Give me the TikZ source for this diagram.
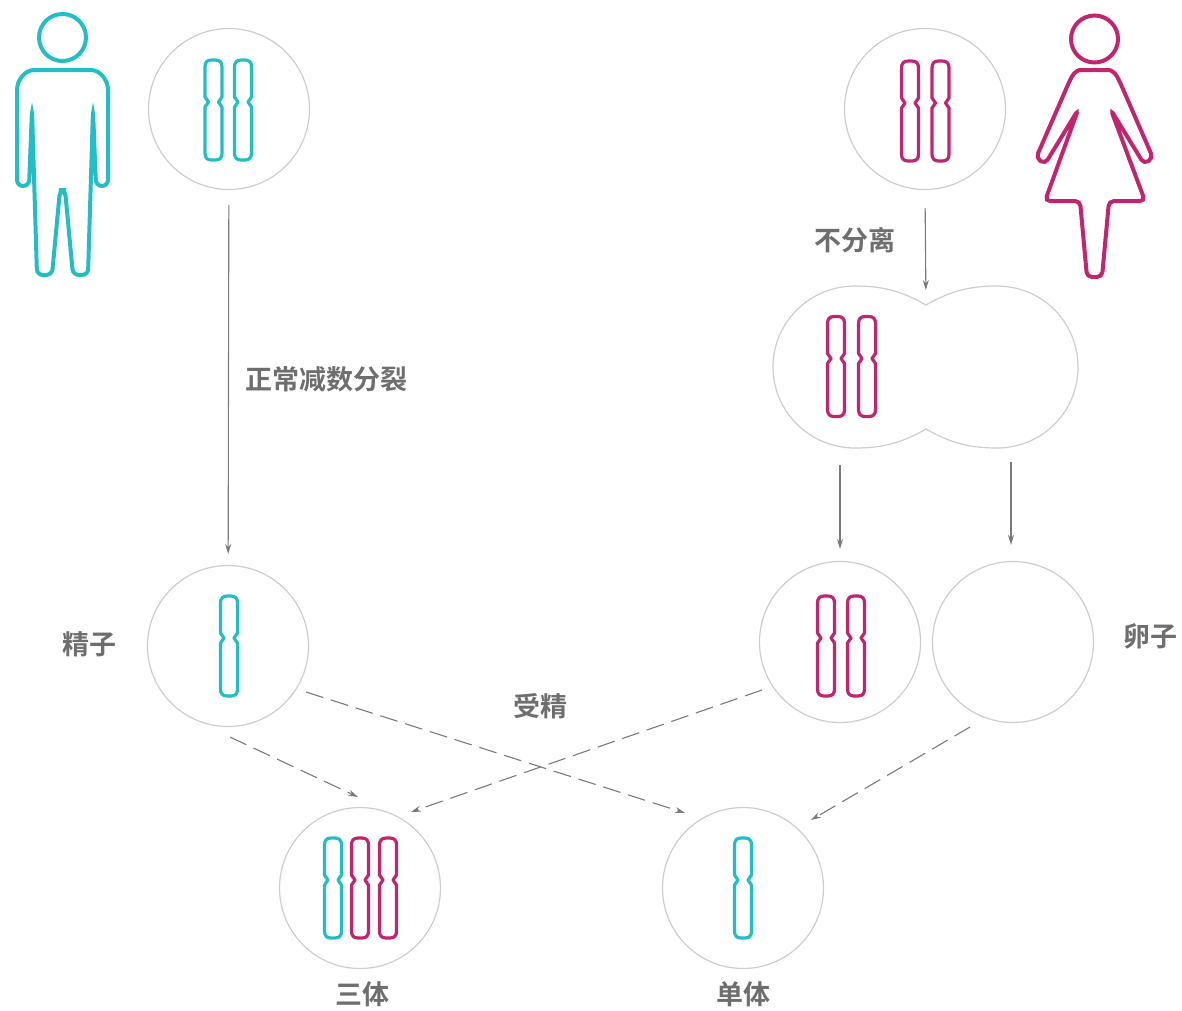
\documentclass[tikz,border=0pt]{standalone}
\usepackage{fontspec}
\usepackage{tikz}
\usetikzlibrary{arrows.meta, calc, positioning}

\newfontfamily\cjk{Noto Sans CJK SC Bold}

\definecolor{malecyan}{HTML}{22BEC6}
\definecolor{femalepink}{HTML}{C2246E}
\definecolor{cellgray}{HTML}{CDCDCD}
\definecolor{arrowgray}{HTML}{7A7A7A}
\definecolor{textgray}{HTML}{6E6E6E}

\tikzset{
    chromo/.pic={
        \draw[line width=3.2pt, line join=round]
            (-8.5,-43) .. controls (-8.5,-47.5) and (-6.5,-50) .. (-2,-50) -- (2,-50)
            .. controls (6.5,-50) and (8.5,-47.5) .. (8.5,-43) -- (8.5,-13)
            .. controls (8.5,-10) and (5,-11) .. (5,-8)
            .. controls (5,-5) and (8.5,-6) .. (8.5,-3)
            -- (8.5,43) .. controls (8.5,47.5) and (6.5,50) .. (2,50) -- (-2,50)
            .. controls (-6.5,50) and (-8.5,47.5) .. (-8.5,43) -- (-8.5,-3)
            .. controls (-8.5,-6) and (-5,-5) .. (-5,-8)
            .. controls (-5,-11) and (-8.5,-10) .. (-8.5,-13)
            -- cycle;
    }
}

\begin{document}
\begin{tikzpicture}[x=1pt, y=-1pt,
        cell/.style={circle, draw=cellgray, line width=1.2pt, minimum size=161pt, inner sep=0pt},
        arr/.style={draw=arrowgray, line width=1.1pt, -{Stealth[length=10pt, width=6pt]}, shorten <=15pt, shorten >=11pt},
        dasharr/.style={draw=arrowgray, line width=1.1pt, dash pattern=on 18pt off 8pt, -{Stealth[length=10pt, width=6pt]}},
        lbl/.style={text=textgray, font=\cjk\fontsize{27}{32}\selectfont, inner sep=0pt}]
    \useasboundingbox (0,0) rectangle (1182,1010);

    % the two parents
    \draw[malecyan, line width=4pt] (62.5,37.5) circle[radius=23.5];
    \draw[malecyan, line width=4pt, rounded corners=6pt]
        (32,110) -- (37,275) -- (52,275) -- (60,190) -- (65,190) -- (73,275) -- (88,275) -- (93,110)
        -- (96,186) -- (108,186) -- (108,96)
        .. controls (108,80) and (100,70) .. (85,70) -- (40,70)
        .. controls (25,70) and (17,80) .. (17,96) -- (17,186) -- (29,186) -- cycle;

    \draw[femalepink, line width=4pt] (1094.5,39) circle[radius=23.5];
    \draw[femalepink, line width=4pt, rounded corners=5pt]
        (1078,110) -- (1045,201) -- (1080,201) -- (1087,277) -- (1102,277) -- (1109,201) -- (1145,201)
        -- (1111,110) -- (1144,164) -- (1153,158)
        -- (1119,80) .. controls (1115,73) and (1111,70) .. (1104,70) -- (1085,70)
        .. controls (1078,70) and (1074,73) .. (1070,80)
        -- (1036,158) -- (1045,164) -- cycle;

    % cells
    \node[cell] (male) at (229,109) {};
    \node[cell] (female) at (925,109) {};
    \node[cell] (sperm) at (228,646) {};
    \node[cell] (egg) at (840,642) {};
    \node[cell] (eggE) at (1013,642) {};
    \node[cell] (tri) at (360,888) {};
    \node[cell] (mono) at (743,888) {};

    % dividing cell
    \draw[cellgray, line width=1.2pt]
        (926,305) coordinate (waist)
        .. controls (900,290) and (880,286) .. (855,286)
        .. controls (810,286) and (773,322) .. (773,367)
        .. controls (773,412) and (810,448) .. (855,448)
        .. controls (880,448) and (900,444) .. (926,429)
        .. controls (952,444) and (972,448) .. (997,448)
        .. controls (1042,448) and (1078,412) .. (1078,367)
        .. controls (1078,322) and (1042,286) .. (997,286)
        .. controls (972,286) and (952,290) .. (926,305) -- cycle;
    \coordinate (lobeL) at (840,450);
    \coordinate (lobeR) at (1011,447);

    % chromosomes
    \pic[color=malecyan] at ($(male)+(-15.5,1)$) {chromo};
    \pic[color=malecyan] at ($(male)+(14,1)$) {chromo};
    \pic[color=femalepink] at ($(female)+(-15,2)$) {chromo};
    \pic[color=femalepink] at ($(female)+(15.5,2)$) {chromo};
    \pic[color=femalepink] at (836,366.5) {chromo};
    \pic[color=femalepink] at (867,366.5) {chromo};
    \pic[color=malecyan] at ($(sperm)+(1,0)$) {chromo};
    \pic[color=femalepink] at ($(egg)+(-14,4)$) {chromo};
    \pic[color=femalepink] at ($(egg)+(16,4)$) {chromo};
    \pic[color=malecyan] at ($(tri)+(-27,0)$) {chromo};
    \pic[color=femalepink] at ($(tri)+(0,0)$) {chromo};
    \pic[color=femalepink] at ($(tri)+(28,0)$) {chromo};
    \pic[color=malecyan] at ($(mono)+(0,0)$) {chromo};

    % meiosis
    \draw[arr] (male) -- (sperm);
    \draw[arr, shorten <=18pt, shorten >=15pt] (female.south) -- (waist);
    \draw[arr, shorten <=15pt, shorten >=12pt] (lobeL) -- (egg.north);
    \draw[arr, shorten >=16pt] (lobeR) -- (lobeR |- eggE.north);

    % fertilisation
    \draw[dasharr] ($(sperm)+(2,91)$) -- ($(tri)+(-2,-91)$);
    \draw[dasharr] ($(sperm)+(78,46)$) -- ($(mono)+(-58,-75)$);
    \draw[dasharr] ($(egg)+(-78,48)$) -- ($(tri)+(51,-76)$);
    \draw[dasharr] ($(eggE)+(-43,85)$) -- ($(mono)+(68,-68)$);

    % labels
    \node[lbl] (normal) at (326,379) {正常减数分裂};
    \node[lbl] (nondis) at (855,240) {不分离};
    \node[lbl] (spermlbl) at (89,644) {精子};
    \node[lbl] (egglbl) at (1150,636) {卵子};
    \node[lbl] (fert) at (540,706) {受精};
    \node[lbl] (trilbl) at (362,994) {三体};
    \node[lbl] (monolbl) at (743,994) {单体};
\end{tikzpicture}
\end{document}
